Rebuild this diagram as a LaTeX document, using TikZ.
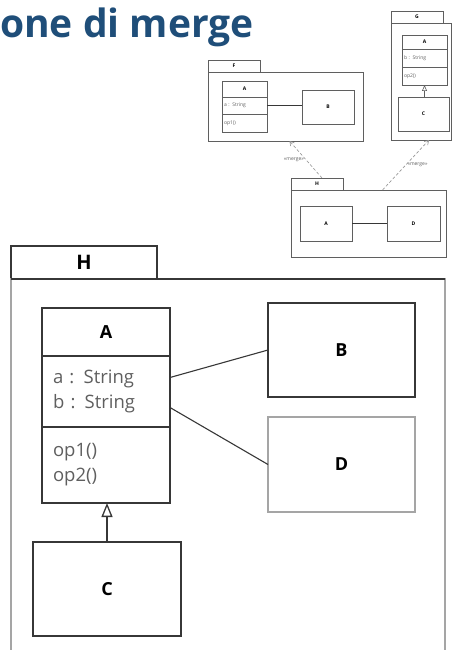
\documentclass[tikz,border=0pt]{standalone}
\usepackage{fontspec}
\setmainfont{Open Sans}
\usepackage{xcolor}
\usetikzlibrary{arrows.meta, positioning}
\definecolor{titleblue}{RGB}{31, 78, 121}
\definecolor{umlline}{RGB}{55, 55, 55}
\definecolor{umltext}{RGB}{95, 95, 95}
\definecolor{umlpale}{RGB}{165, 165, 165}

\begin{document}
\begin{tikzpicture}[
          x=1pt, y=-1pt,
          bigbox/.style={rectangle, draw=umlline, line width=1.3pt, inner sep=0pt, outer sep=0pt, anchor=north west, font=\fontsize{18}{26}\selectfont\bfseries},
          bigcomp/.style={rectangle, draw=umlline, line width=1.3pt, inner sep=0pt, outer sep=0pt, minimum width=128pt, text width=106pt, align=left, text=umltext, font=\fontsize{18.5}{25}\selectfont},
          smallbox/.style={rectangle, draw=umlline!80, line width=0.6pt, inner sep=0pt, outer sep=0pt, anchor=north west, font=\fontsize{5}{6}\selectfont\bfseries},
          smallcomp/.style={rectangle, draw=umlline!80, line width=0.6pt, inner sep=0pt, outer sep=0pt, text width=41pt, align=left, text=umltext, font=\fontsize{5}{6}\selectfont},
          assoc/.style={draw=umlline, line width=1.1pt},
          genarr/.style={draw=umlline, line width=1.3pt, -{Triangle[open, length=14pt, width=11pt, fill=white]}},
          mergearr/.style={draw=umlpale!90!black, line width=0.6pt, densely dashed, -{Straight Barb[length=4pt, width=5pt]}},
          mergelbl/.style={font=\fontsize{5}{6}\selectfont, text=umltext, inner sep=1.5pt}
        ]
          \useasboundingbox (0,0) rectangle (451,650);

          \node[anchor=base west, inner sep=0pt, text=titleblue, font=\fontsize{39}{42}\selectfont\bfseries] (title) at (0,38) {one di merge};

          % small package F
          \node[smallbox, minimum width=52pt, minimum height=12pt] (ftab) at (208,60) {F};
          \node[smallbox, minimum width=155pt, minimum height=69pt] (fbody) at (208,72) {};
          \node[smallbox, minimum width=45pt, minimum height=16pt] (fahead) at (222,81) {A};
          \node[smallcomp, minimum width=45pt, minimum height=17pt, below=0pt of fahead] (faattr) {a : String};
          \node[smallcomp, minimum width=45pt, minimum height=18pt, below=0pt of faattr] (faops) {op1()};
          \node[smallbox, minimum width=52pt, minimum height=34pt] (fb) at (302,90) {B};
          \draw[assoc, line width=0.6pt] (faattr.east) -- (faattr.east -| fb.west);

          % small package G
          \node[smallbox, minimum width=52pt, minimum height=12pt] (gtab) at (391,11) {G};
          \node[smallbox, minimum width=60pt, minimum height=117pt] (gbody) at (391,23) {};
          \node[smallbox, minimum width=45pt, minimum height=14pt] (gahead) at (402,35) {A};
          \node[smallcomp, minimum width=45pt, minimum height=18pt, below=0pt of gahead] (gaattr) {b : String};
          \node[smallcomp, minimum width=45pt, minimum height=18pt, below=0pt of gaattr] (gaops) {op2()};
          \node[smallbox, minimum width=51pt, minimum height=34pt] (gc) at (398,97) {C};
          \draw[draw=umlline!80, line width=0.6pt, -{Triangle[open, length=6pt, width=5pt, fill=white]}] (gc.north -| gaops.south) -- (gaops.south);

          % small package H
          \node[smallbox, minimum width=52pt, minimum height=12pt] (hstab) at (291,178) {H};
          \node[smallbox, minimum width=155pt, minimum height=67pt] (hsbody) at (291,190) {};
          \node[smallbox, minimum width=52pt, minimum height=35pt] (hsa) at (300,206) {A};
          \node[smallbox, minimum width=53pt, minimum height=35pt] (hsd) at (387,206) {D};
          \draw[assoc, line width=0.6pt] (hsa) -- (hsd);

          \draw[mergearr] ([xshift=5pt]hstab.north) -- node[mergelbl, left] {«merge»} ([xshift=4pt]fbody.south);
          \draw[mergearr] ([xshift=14pt]hsbody.north) -- node[mergelbl, right] {«merge»} ([xshift=8pt]gbody.south);

          % big package H
          \node[bigbox, font=\fontsize{20}{24}\selectfont\bfseries, minimum width=146pt, minimum height=33pt] (htab) at (11,246) {H};
          \node[bigbox, draw=umlpale, minimum width=434pt, minimum height=380pt] (hbody) at (11,279) {};
          \draw[umlline, line width=1.3pt] (hbody.north west) -- (hbody.north east);

          \node[bigbox, minimum width=128pt, minimum height=48pt] (ahead) at (42,308) {A};
          \node[bigcomp, minimum height=71pt, below=0pt of ahead] (aattr) {a : String\\b : String};
          \node[bigcomp, minimum height=76pt, below=0pt of aattr] (aops) {op1()\\op2()};

          \node[bigbox, minimum width=147pt, minimum height=94pt] (bbox) at (268,303) {B};
          \node[bigbox, draw=umlpale, minimum width=147pt, minimum height=95pt] (dbox) at (268,417) {D};
          \node[bigbox, minimum width=148pt, minimum height=94pt] (cbox) at (33,542) {C};

          \draw[assoc] ([yshift=14pt]aattr.east) -- (bbox.west);
          \draw[assoc] ([yshift=-16pt]aattr.east) -- (dbox.west);
          \draw[genarr] (cbox.north) -- (cbox.north |- aops.south);
        \end{tikzpicture}
\end{document}
